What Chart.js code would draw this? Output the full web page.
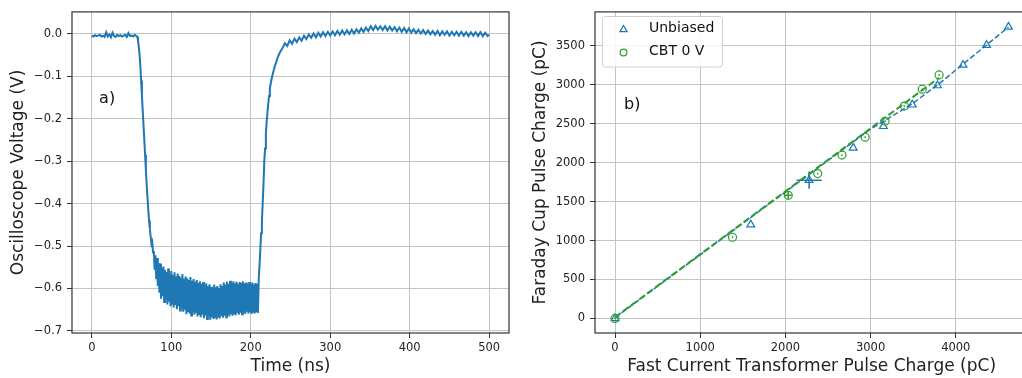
<!DOCTYPE html>
<html>
<head>
<meta charset="utf-8">
<script src="https://cdn.jsdelivr.net/npm/chart.js@4.4.0/dist/chart.umd.min.js"></script>
<style>
  html, body { margin: 0; padding: 0; background: #fff; overflow: hidden; }
  body { width: 1022px; height: 378px; position: relative; }
  #left { position: absolute; left: 0; top: 0; }
  #right { position: absolute; left: 520px; top: 0; }
</style>
</head>
<body>
<canvas id="left" width="520" height="378"></canvas>
<canvas id="right" width="514" height="378"></canvas>
<script>
// ---- panel a) oscilloscope trace ----
const traceTimeNs = [
  0, 2, 4, 6, 8, 10, 12, 14, 16, 18, 20, 22, 24, 26, 28, 30, 32, 34, 36, 38, 40, 42, 44, 46, 48, 50, 52, 54, 56,
  57, 58, 59, 60, 61, 62, 63, 64, 65, 66, 67, 68, 69, 70, 71, 72, 73, 74, 75, 76, 77,
  78, 79, 80, 81, 82, 83, 84, 85, 86, 87, 88, 89, 90, 91, 92, 93, 94, 95, 96, 97,
  98, 99, 100, 101, 102, 103, 104, 105, 106, 107, 108, 109, 110, 111, 112, 113, 114, 115, 116, 117,
  118, 119, 120, 121, 122, 123, 124, 125, 126, 127, 128, 129, 130, 131, 132, 133, 134, 135, 136, 137,
  138, 139, 140, 141, 142, 143, 144, 145, 146, 147, 148, 149, 150, 151, 152, 153, 154, 155, 156, 157,
  158, 159, 160, 161, 162, 163, 164, 165, 166, 167, 168, 169, 170, 171, 172, 173, 174, 175, 176, 177,
  178, 179, 180, 181, 182, 183, 184, 185, 186, 187, 188, 189, 190, 191, 192, 193, 194, 195, 196, 197,
  198, 199, 200, 201, 202, 203, 204, 205, 206, 207, 208, 209,
  210, 211, 212, 213, 214, 215, 216, 217, 218, 219, 220, 221, 222, 223, 224, 226, 228, 230, 232, 234, 236, 238, 240,
  243, 246, 249, 252, 255, 258, 261, 264, 267, 270, 273, 276, 279, 282, 285, 288, 291, 294, 297, 300,
  303, 306, 309, 312, 315, 318, 321, 324, 327, 330, 333, 336, 339, 342, 345, 348, 351, 354, 357, 360,
  363, 366, 369, 372, 375, 378, 381, 384, 387, 390, 393, 396, 399, 402, 405, 408, 411, 414, 417, 420,
  423, 426, 429, 432, 435, 438, 441, 444, 447, 450, 453, 456, 459, 462, 465, 468, 471, 474, 477, 480,
  483, 486, 489, 492, 495, 498, 500
];
const traceVoltage = [
  -0.004, -0.006, -0.003, -0.005, -0.004, -0.002, -0.006, -0.004, -0.007, 0.004, -0.006, -0.001, -0.008, 0.003, -0.005,
  -0.007, -0.002, -0.005, -0.003, -0.006, -0.004, -0.002, -0.007, 0.002, -0.005, -0.004, -0.006, -0.002, -0.005,
  -0.006, -0.014, -0.03, -0.048, -0.075, -0.11, -0.145, -0.18, -0.215, -0.25, -0.285, -0.32, -0.355, -0.385, -0.415,
  -0.44, -0.46, -0.478, -0.495, -0.49, -0.515,
  -0.512, -0.556, -0.522, -0.578, -0.528, -0.594, -0.54, -0.61, -0.541, -0.624,
  -0.552, -0.618, -0.548, -0.632, -0.556, -0.627, -0.561, -0.638, -0.553, -0.631,
  -0.566, -0.642, -0.559, -0.636, -0.568, -0.645, -0.562, -0.639, -0.571, -0.649,
  -0.565, -0.642, -0.57, -0.652, -0.574, -0.646, -0.566, -0.655, -0.577, -0.65,
  -0.572, -0.661, -0.576, -0.653, -0.58, -0.659, -0.573, -0.664, -0.582, -0.656,
  -0.578, -0.662, -0.584, -0.658, -0.58, -0.666, -0.587, -0.66, -0.583, -0.668,
  -0.589, -0.662, -0.585, -0.67, -0.592, -0.664, -0.588, -0.672, -0.594, -0.666,
  -0.59, -0.674, -0.596, -0.668, -0.598, -0.672, -0.591, -0.667, -0.597, -0.673,
  -0.594, -0.666, -0.599, -0.671, -0.59, -0.665, -0.594, -0.669, -0.586, -0.664,
  -0.591, -0.668, -0.584, -0.662, -0.589, -0.666, -0.582, -0.661, -0.587, -0.664,
  -0.583, -0.659, -0.588, -0.663, -0.584, -0.658, -0.589, -0.662, -0.585, -0.657,
  -0.587, -0.661, -0.583, -0.656, -0.588, -0.66, -0.586, -0.655, -0.59, -0.659,
  -0.585, -0.656, -0.589, -0.66, -0.586, -0.655, -0.59, -0.659, -0.587, -0.656, -0.589, -0.658,
  -0.58, -0.545, -0.51, -0.47, -0.44, -0.4, -0.355, -0.3, -0.27, -0.235, -0.207, -0.185, -0.165, -0.146, -0.129,
  -0.108, -0.092, -0.078, -0.066, -0.055, -0.046, -0.039, -0.033,
  -0.022, -0.028, -0.015, -0.023, -0.011, -0.019, -0.008, -0.016, -0.004, -0.012, -0.001, -0.009, 0.001, -0.008,
  0.003, -0.006, 0.004, -0.005, 0.005, -0.004,
  0.006, -0.003, 0.007, -0.002, 0.008, -0.001, 0.009, 0.0, 0.01, 0.001, 0.011, 0.003, 0.013, 0.005, 0.015, 0.007,
  0.018, 0.009, 0.019, 0.01,
  0.018, 0.009, 0.018, 0.008, 0.017, 0.008, 0.016, 0.006, 0.015, 0.005, 0.014, 0.004, 0.013, 0.003, 0.011, 0.002,
  0.01, 0.001, 0.009, 0.0,
  0.008, -0.001, 0.007, -0.002, 0.007, -0.003, 0.006, -0.002, 0.006, -0.004, 0.005, -0.003, 0.005, -0.004, 0.005,
  -0.004, 0.004, -0.005, 0.004, -0.004,
  0.004, -0.005, 0.004, -0.005, 0.003, -0.005, -0.002
];
const timeTicks = [0, 100, 200, 300, 400, 500];
const voltTicks = [-0.7, -0.6, -0.5, -0.4, -0.3, -0.2, -0.1, 0.0];

// ---- panel b) charge comparison ----
const seriesNames = ["Unbiased", "CBT 0 V"];
const unbiasedFct = [0, 1593, 2278, 2796, 3150, 3489, 3785, 4085, 4361, 4618];
const unbiasedFc = [0, 1204, 1775, 2190, 2467, 2743, 2990, 3254, 3509, 3743];
const cbtFct = [0, 1379, 2033, 2379, 2664, 2936, 3170, 3396, 3606, 3804];
const cbtFc = [0, 1042, 1580, 1859, 2097, 2327, 2531, 2726, 2943, 3126];
const unbiasedFitX = [0, 3000, 3489, 3800, 4618];
const unbiasedFitY = [10, 2430, 2755, 3010, 3740];
const cbtFitX = [0, 3804];
const cbtFitY = [15, 3090];
// error bars: centre x, centre y, half widths
const errCenterX = [2278, 2033];
const errCenterY = [1775, 1580];
const errHalfX = [148, 40];
const errHalfY = [110, 45];
const chargeXTicks = [0, 1000, 2000, 3000, 4000];
const chargeYTicks = [0, 500, 1000, 1500, 2000, 2500, 3000, 3500];

const BLUE = "#1f77b4";
const GREEN = "#2ca02c";
const FONT = "'DejaVu Sans', sans-serif";

Chart.defaults.font.family = FONT;
Chart.defaults.color = "#222";

const toPoints = (xs, ys) => xs.map((x, i) => ({ x: x, y: ys[i] }));

const framePlugin = {
  id: "frame",
  afterDatasetsDraw(chart) {
    const { ctx, chartArea: a } = chart;
    ctx.save();
    ctx.strokeStyle = "#333";
    ctx.lineWidth = 1.2;
    ctx.strokeRect(a.left, a.top, a.right - a.left, a.bottom - a.top);
    ctx.restore();
  }
};

const panelLabelPlugin = {
  id: "panelLabel",
  afterDatasetsDraw(chart, args, opts) {
    const { ctx, chartArea: a } = chart;
    ctx.save();
    ctx.font = "16px " + FONT;
    ctx.fillStyle = "#111";
    ctx.textAlign = "left";
    ctx.textBaseline = "middle";
    ctx.fillText(opts.text, a.left + opts.fx * (a.right - a.left), a.top + opts.fy * (a.bottom - a.top));
    ctx.restore();
  }
};

const errorBarPlugin = {
  id: "errorBars",
  beforeDatasetsDraw(chart) {
    const { ctx, scales } = chart;
    const colors = [BLUE, GREEN];
    ctx.save();
    ctx.lineWidth = 1.5;
    errCenterX.forEach((cx, i) => {
      const x0 = scales.x.getPixelForValue(cx - errHalfX[i]);
      const x1 = scales.x.getPixelForValue(cx + errHalfX[i]);
      const y0 = scales.y.getPixelForValue(errCenterY[i] - errHalfY[i]);
      const y1 = scales.y.getPixelForValue(errCenterY[i] + errHalfY[i]);
      const px = scales.x.getPixelForValue(cx);
      const py = scales.y.getPixelForValue(errCenterY[i]);
      ctx.strokeStyle = colors[i];
      ctx.beginPath();
      ctx.moveTo(x0, py); ctx.lineTo(x1, py);
      ctx.moveTo(px, y0); ctx.lineTo(px, y1);
      ctx.stroke();
    });
    ctx.restore();
  }
};

const legendBoxPlugin = {
  id: "legendBox",
  afterDatasetsDraw(chart) {
    const ctx = chart.ctx;
    const left = 82.5, top = 16.5, w = 120, h = 50.5, r = 3;
    ctx.save();
    ctx.beginPath();
    ctx.roundRect(left, top, w, h, r);
    ctx.fillStyle = "rgba(255,255,255,0.85)";
    ctx.fill();
    ctx.strokeStyle = "#d0d0d0";
    ctx.lineWidth = 1;
    ctx.stroke();

    const mx = 103.5;
    const rows = [29.5, 52.5];
    // triangle
    ctx.strokeStyle = BLUE;
    ctx.lineWidth = 1.2;
    ctx.beginPath();
    ctx.moveTo(mx, rows[0] - 4);
    ctx.lineTo(mx + 3.6, rows[0] + 2.2);
    ctx.lineTo(mx - 3.6, rows[0] + 2.2);
    ctx.closePath();
    ctx.stroke();
    // circle
    ctx.strokeStyle = GREEN;
    ctx.beginPath();
    ctx.arc(mx, rows[1], 3.4, 0, Math.PI * 2);
    ctx.stroke();

    ctx.fillStyle = "#111";
    ctx.font = "14px " + FONT;
    ctx.textAlign = "left";
    ctx.textBaseline = "middle";
    seriesNames.forEach((name, i) => ctx.fillText(name, 129, rows[i] - 1));
    ctx.restore();
  }
};

const gridStyle = { color: "#c4c4c4", lineWidth: 1, tickLength: 5, tickColor: "#333", tickWidth: 1 };
const tickFont = { size: 11.5 };
const titleFont = { size: 17 };

// ---- left chart ----
new Chart(document.getElementById("left"), {
  type: "line",
  data: {
    datasets: [{
      data: toPoints(traceTimeNs, traceVoltage),
      borderColor: BLUE,
      borderWidth: 2,
      pointRadius: 0,
      tension: 0,
      fill: false
    }]
  },
  options: {
    responsive: false,
    animation: false,
    devicePixelRatio: 1,
    layout: { padding: { top: 9, right: 11, bottom: 0, left: 0 } },
    plugins: {
      legend: { display: false },
      tooltip: { enabled: false },
      panelLabel: { text: "a)", fx: 0.062, fy: 0.27 }
    },
    scales: {
      x: {
        type: "linear",
        min: -25,
        max: 525,
        afterFit: (s) => { s.height = 45; },
        afterBuildTicks: (s) => { s.ticks = timeTicks.map((v) => ({ value: v })); },
        grid: gridStyle,
        border: { display: false },
        ticks: { font: tickFont, padding: 3, maxRotation: 0, autoSkip: false, callback: (v) => String(v) },
        title: { display: true, text: "Time (ns)", font: titleFont, padding: { top: 0, bottom: 1 } }
      },
      y: {
        type: "linear",
        min: -0.705,
        max: 0.052,
        afterFit: (s) => { s.width = 72; },
        afterBuildTicks: (s) => { s.ticks = voltTicks.map((v) => ({ value: v })); },
        grid: gridStyle,
        border: { display: false },
        ticks: {
          font: tickFont,
          padding: 5,
          autoSkip: false,
          callback: (v) => (Math.abs(v) < 1e-9 ? "0.0" : "\u2212" + Math.abs(v).toFixed(1))
        },
        title: { display: true, text: "Oscilloscope Voltage (V)", font: titleFont, padding: { top: 8, bottom: 0 } }
      }
    }
  },
  plugins: [framePlugin, panelLabelPlugin]
});

// ---- right chart ----
new Chart(document.getElementById("right"), {
  type: "scatter",
  data: {
    datasets: [
      {
        data: toPoints(cbtFitX, cbtFitY),
        showLine: true,
        borderColor: GREEN,
        borderWidth: 2,
        borderDash: [7, 3],
        pointRadius: 0,
        order: 0
      },
      {
        data: toPoints(unbiasedFitX, unbiasedFitY),
        showLine: true,
        borderColor: BLUE,
        borderWidth: 1.5,
        borderDash: [5.5, 2.5],
        pointRadius: 0,
        order: 1
      },
      {
        label: seriesNames[1],
        data: toPoints(cbtFct, cbtFc),
        pointStyle: "circle",
        pointRadius: 4,
        borderColor: GREEN,
        backgroundColor: "rgba(0,0,0,0)",
        borderWidth: 1.2,
        order: 2
      },
      {
        data: toPoints(cbtFct, cbtFc),
        pointStyle: "circle",
        pointRadius: 0.9,
        borderWidth: 0,
        backgroundColor: GREEN,
        order: 2
      },
      {
        label: seriesNames[0],
        data: toPoints(unbiasedFct, unbiasedFc),
        pointStyle: "triangle",
        pointRadius: 4.5,
        borderColor: BLUE,
        backgroundColor: "rgba(0,0,0,0)",
        borderWidth: 1.2,
        order: 3
      }
    ]
  },
  options: {
    responsive: false,
    animation: false,
    devicePixelRatio: 1,
    layout: { padding: { top: 9, right: 4, bottom: 0, left: 0 } },
    plugins: {
      legend: { display: false },
      tooltip: { enabled: false },
      panelLabel: { text: "b)", fx: 0.067, fy: 0.29 }
    },
    scales: {
      x: {
        type: "linear",
        min: -235,
        max: 4851,
        afterFit: (s) => { s.height = 45; },
        afterBuildTicks: (s) => { s.ticks = chargeXTicks.map((v) => ({ value: v })); },
        grid: gridStyle,
        border: { display: false },
        ticks: { font: tickFont, padding: 3, maxRotation: 0, autoSkip: false, callback: (v) => String(v) },
        title: { display: true, text: "Fast Current Transformer Pulse Charge (pC)", font: titleFont, padding: { top: 0, bottom: 1 } }
      },
      y: {
        type: "linear",
        min: -187,
        max: 3935,
        afterFit: (s) => { s.width = 75; },
        afterBuildTicks: (s) => { s.ticks = chargeYTicks.map((v) => ({ value: v })); },
        grid: gridStyle,
        border: { display: false },
        ticks: { font: tickFont, padding: 5, autoSkip: false, callback: (v) => String(v) },
        title: { display: true, text: "Faraday Cup Pulse Charge (pC)", font: titleFont, padding: { top: 10, bottom: 0 } }
      }
    }
  },
  plugins: [errorBarPlugin, framePlugin, panelLabelPlugin, legendBoxPlugin]
});
</script>
</body>
</html>
